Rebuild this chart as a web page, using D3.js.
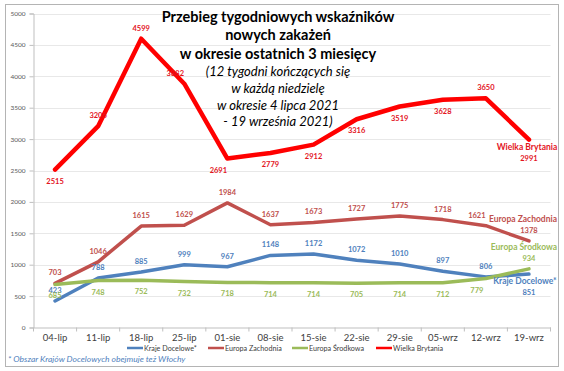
<!DOCTYPE html>
<html><head><meta charset="utf-8">
<script src="https://cdn.jsdelivr.net/npm/d3@7/dist/d3.min.js"></script>
<style>html,body{margin:0;padding:0;background:#fff;}svg{display:block;font-family:Lato,"Open Sans",sans-serif;}</style>
</head><body>
<svg id="c" width="564" height="371"></svg>
<script>
// ---- data ----
const categories = ["04-lip","11-lip","18-lip","25-lip","01-sie","08-sie","15-sie","22-sie","29-sie","05-wrz","12-wrz","19-wrz"];
const krajeDocelowe = [423,788,885,999,967,1148,1172,1072,1010,897,806,851];
const europaZachodnia = [703,1046,1615,1629,1984,1637,1673,1727,1775,1718,1621,1378];
const europaSrodkowa = [685,748,752,732,718,714,714,705,714,712,779,934];
const wielkaBrytania = [2515,3206,4599,3882,2691,2779,2912,3316,3519,3628,3650,2991];
const yTicks = [0,500,1000,1500,2000,2500,3000,3500,4000,4500,5000];
const seriesNames = ["Kraje Docelowe*","Europa Zachodnia","Europa Środkowa","Wielka Brytania"];
const titleLines = ["Przebieg tygodniowych wskaźników","nowych zakażeń","w okresie ostatnich 3 miesięcy"];
const subtitleLines = ["(12 tygodni kończących się","w każdą niedzielę","w okresie 4 lipca 2021","- 19 września 2021)"];
const footnote = "* Obszar Krajów Docelowych obejmuje też Włochy";

// ---- label placement (style) ----
const placements = {
  "Kraje Docelowe*": ["a","a","a","a","a","a","a","a","a","a","a","b"],
  "Europa Zachodnia": ["a","a","a","a","a","a","a","a","a","a","al","a"],
  "Europa Środkowa": ["b","b","b","b","b","b","b","b","b","b","bl","a"],
  "Wielka Brytania": ["b","a","a","al","bl","b","b","b","b","b","a","b"]
};
const styles = {
  "Kraje Docelowe*": {line:"#4F81BD", text:"#4F81BD", w:3.5, nameDx:-4},
  "Europa Zachodnia": {line:"#C0504D", text:"#C0504D", w:3.5, nameDx:-6},
  "Europa Środkowa": {line:"#9BBB59", text:"#9BBB59", w:3.5, nameDx:-5},
  "Wielka Brytania": {line:"#FF0000", text:"#E3141E", w:4.5, nameDx:-2}
};
const seriesValues = [krajeDocelowe, europaZachodnia, europaSrodkowa, wielkaBrytania];

const svg = d3.select("#c");
// frame
svg.append("rect").attr("x",5.5).attr("y",4.5).attr("width",553).attr("height",362)
  .attr("fill","#fff").attr("stroke","#B4B4B4").attr("stroke-width",1);

const x = d3.scaleBand().domain(categories).range([33.5,550.5]);
const y = d3.scaleLinear().domain([0,5000]).range([327.5,13.5]);
const cx = c => x(c) + x.bandwidth()/2;

// gridlines
svg.append("g").selectAll("line").data(yTicks.filter(t=>t>0)).join("line")
  .attr("x1",33.5).attr("x2",550.5).attr("y1",d=>Math.round(y(d))+0.5).attr("y2",d=>Math.round(y(d))+0.5)
  .attr("stroke","#E8E8E8").attr("stroke-width",1);

// y axis
const yAxis = svg.append("g").attr("transform","translate(33.5,0)")
  .call(d3.axisLeft(y).tickValues(yTicks).tickFormat(d3.format("d")).tickSize(4).tickPadding(4));
yAxis.select(".domain").attr("stroke","#BFBFBF");
yAxis.selectAll(".tick line").attr("stroke","#BFBFBF");
yAxis.selectAll(".tick text").attr("fill","#595959").style("font-size","6.5px").style("font-family","Lato");

// x axis
const xAxis = svg.append("g").attr("transform","translate(0,327.5)")
  .call(d3.axisBottom(x).tickSize(0).tickPadding(7));
xAxis.select(".domain").attr("stroke","#BFBFBF");
xAxis.selectAll(".tick text").attr("fill","#404040").style("font-size","9.5px").style("font-family","Lato");
svg.append("g").selectAll("line").data(categories.concat(["_end"])).join("line")
  .attr("x1",(d,i)=>i<categories.length? x(d): 550.5).attr("x2",(d,i)=>i<categories.length? x(d): 550.5)
  .attr("y1",327.5).attr("y2",331.5).attr("stroke","#BFBFBF");

// lines
const line = d3.line().x((d,i)=>cx(categories[i])).y(d=>y(d));
seriesNames.forEach((name,si)=>{
  const st = styles[name];
  svg.append("path").datum(seriesValues[si]).attr("d",line)
    .attr("fill","none").attr("stroke",st.line).attr("stroke-width",st.w)
    .attr("stroke-linejoin","round").attr("stroke-linecap","round");
});

// data labels
seriesNames.forEach((name,si)=>{
  const st = styles[name];
  const vals = seriesValues[si];
  const g = svg.append("g").attr("fill",st.text).style("font-weight","bold").style("font-family","Lato").attr("text-anchor","middle");
  vals.forEach((v,i)=>{
    const p = placements[name][i];
    const px = cx(categories[i]), py = y(v);
    const last = i === vals.length-1;
    let dx = p.endsWith("l") ? -9 : 0;
    if (!last) {
      const ty = p[0]==="a" ? py-8 : py+14;
      g.append("text").attr("x",px+dx).attr("y",ty).style("font-size","7.5px").text(v);
    } else {
      if (p==="a") {
        g.append("text").attr("x",px+st.nameDx).attr("y",py-19).style("font-size","8.5px").text(name);
        g.append("text").attr("x",px).attr("y",py-8).style("font-size","7.5px").text(v);
      } else {
        g.append("text").attr("x",px+st.nameDx).attr("y",py+10).style("font-size","8.5px").text(name);
        g.append("text").attr("x",px).attr("y",py+21).style("font-size","7.5px").text(v);
      }
    }
  });
});

// title
const tg = svg.append("g").attr("text-anchor","middle").style("font-family","Lato");
const tBase = [22,40,59];
titleLines.forEach((t,i)=>tg.append("text").attr("x",278).attr("y",tBase[i]).style("font-size","14.5px").style("font-weight","bold").attr("fill","#000").text(t));
const sBase = [76,93,110,126];
subtitleLines.forEach((t,i)=>tg.append("text").attr("x",278).attr("y",sBase[i]).style("font-size","13px").style("font-style","italic").attr("fill","#000").text(t));

// legend
const legX = [127,208,292,376];
const lg = svg.append("g").style("font-family","Lato");
seriesNames.forEach((name,i)=>{
  lg.append("line").attr("x1",legX[i]).attr("x2",legX[i]+16).attr("y1",348).attr("y2",348)
    .attr("stroke",styles[name].line).attr("stroke-width",2.5);
  lg.append("text").attr("x",legX[i]+17).attr("y",350.5).style("font-size","7.2px").attr("fill","#404040").text(name);
});

// footnote
svg.append("text").attr("x",8).attr("y",361.5).style("font-size","8.5px").style("font-style","italic")
  .style("font-family","Lato").attr("fill","#4F81BD").text(footnote);
</script>
</body></html>
